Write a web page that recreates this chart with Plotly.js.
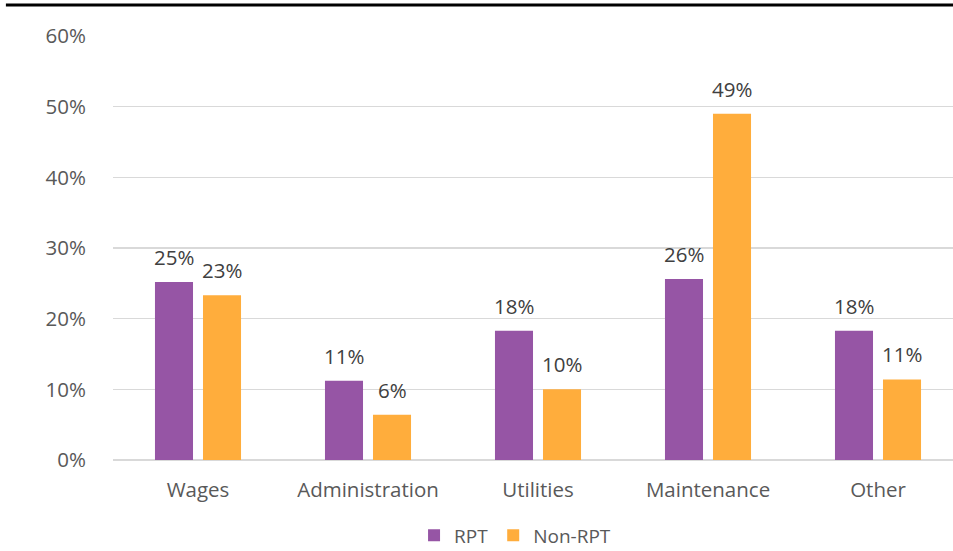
<!DOCTYPE html>
<html>
<head>
<meta charset="utf-8">
<script src="https://cdn.plot.ly/plotly-3.0.1.min.js"></script>
<style>
html,body{margin:0;padding:0;overflow:hidden;background:#fff;}
#chart{width:963px;height:575px;}
</style>
</head>
<body>
<div id="chart"></div>
<script>
const categories = ["Wages", "Administration", "Utilities", "Maintenance", "Other"];
const rptValues = [0.252, 0.112, 0.183, 0.256, 0.183];
const nonRptValues = [0.233, 0.064, 0.100, 0.490, 0.114];
const seriesNames = ["RPT", "Non-RPT"];
const yTickVals = [0, 0.1, 0.2, 0.3, 0.4, 0.5, 0.6];
const yTickText = ["0%", "10%", "20%", "30%", "40%", "50%", "60%"];

const font = "'Open Sans', sans-serif";
const fmt = v => Math.round(v * 100) + "%";

const traces = [
  {type: "bar", name: seriesNames[0], x: categories, y: rptValues,
   marker: {color: "#9655A5"}, hoverinfo: "none"},
  {type: "bar", name: seriesNames[1], x: categories, y: nonRptValues,
   marker: {color: "#FFAD3C"}, hoverinfo: "none"}
];

const annotations = [];
[[rptValues, -24], [nonRptValues, 24]].forEach(([vals, dx]) => {
  vals.forEach((v, i) => {
    annotations.push({x: categories[i], y: v, xref: "x", yref: "y", text: fmt(v),
      showarrow: false, xshift: dx, yshift: 25, yanchor: "middle", xanchor: "center",
      font: {family: font, size: 20.5, color: "#404040"}});
  });
});

const layout = {
  width: 963, height: 575,
  margin: {l: 113, r: 0, t: 36, b: 115},
  paper_bgcolor: "#fff", plot_bgcolor: "#fff",
  barmode: "group", bargap: 0.435, bargroupgap: 0.208,
  font: {family: font, color: "#595959", size: 20},
  showlegend: true,
  legend: {orientation: "h", x: 0.473, xanchor: "center", y: -0.178, yanchor: "middle",
           font: {family: font, size: 19, color: "#595959"}, itemwidth: 30, traceorder: "normal"},
  xaxis: {showgrid: false, zeroline: false, showline: false, ticks: "outside", ticklen: 11,
          tickcolor: "rgba(0,0,0,0)", tickfont: {family: font, size: 20.5, color: "#595959"}, fixedrange: true},
  yaxis: {range: [0, 0.6], tickvals: yTickVals, ticktext: yTickText, showgrid: true,
          gridcolor: "#d9d9d9", gridwidth: 1.3, zeroline: true, zerolinecolor: "#d9d9d9", zerolinewidth: 1.3,
          showline: false, ticks: "outside", ticklen: 22, tickcolor: "rgba(0,0,0,0)",
          tickfont: {family: font, size: 20.5, color: "#595959"}, fixedrange: true},
  annotations: annotations,
  shapes: [{type: "line", xref: "paper", yref: "paper", x0: -0.126, x1: 1.01, y0: 1.073, y1: 1.073,
            line: {color: "#000", width: 3}}]
};

Plotly.newPlot("chart", traces, layout, {displayModeBar: false, staticPlot: true});
</script>
</body>
</html>
